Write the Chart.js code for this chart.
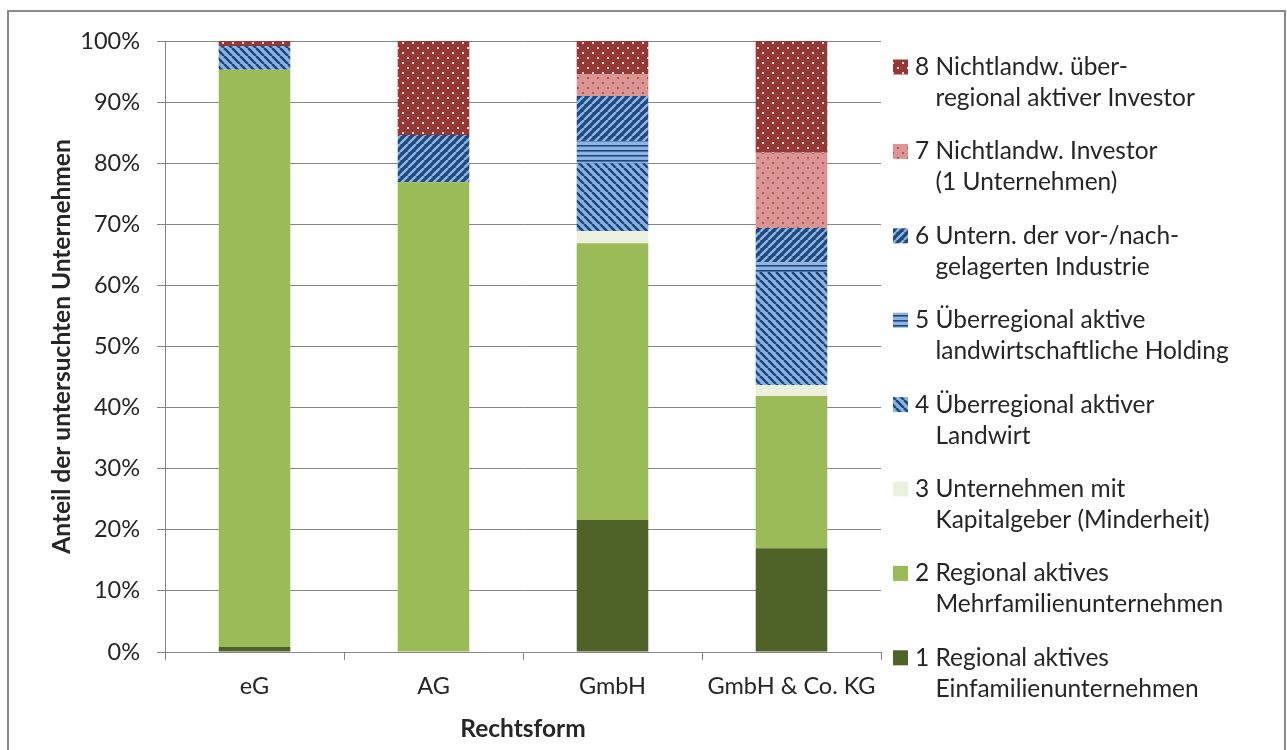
<!DOCTYPE html>
<html>
<head>
<meta charset="utf-8">
<script src="https://cdn.jsdelivr.net/npm/chart.js@4"></script>
<style>
  html, body { margin: 0; padding: 0; background: #fff; }
  #wrap { width: 1287px; height: 750px; }
</style>
</head>
<body>
<div id="wrap"><canvas id="chartContainer" width="1287" height="750"></canvas></div>
<script>
// categories and series (percent of companies per legal form)
var categories = ["eG", "AG", "GmbH", "GmbH & Co. KG"];
var s1_einfamilie = [0.8, 0, 21.6, 17.0];
var s2_mehrfamilie = [94.5, 76.9, 45.3, 24.9];
var s3_kapitalgeber = [0, 0, 2.0, 1.8];
var s4_landwirt = [3.9, 0, 11.1, 18.5];
var s5_holding = [0, 0, 3.6, 1.6];
var s6_industrie = [0, 7.7, 7.4, 5.6];
var s7_investor = [0, 0, 3.6, 12.3];
var s8_investor_ueberreg = [0.8, 15.4, 5.4, 18.3];
var yTicks = [0, 10, 20, 30, 40, 50, 60, 70, 80, 90, 100];

var seriesLabels = [
    ["1 Regional aktives", "Einfamilienunternehmen"],
    ["2 Regional aktives", "Mehrfamilienunternehmen"],
    ["3 Unternehmen mit", "Kapitalgeber (Minderheit)"],
    ["4 Überregional aktiver", "Landwirt"],
    ["5 Überregional aktive", "landwirtschaftliche Holding"],
    ["6 Untern. der vor-/nach-", "gelagerten Industrie"],
    ["7 Nichtlandw. Investor", "(1 Unternehmen)"],
    ["8 Nichtlandw. über-", "regional aktiver Investor"]
];
var seriesData = [s1_einfamilie, s2_mehrfamilie, s3_kapitalgeber, s4_landwirt,
                  s5_holding, s6_industrie, s7_investor, s8_investor_ueberreg];

var FONT = "Lato, 'Open Sans', sans-serif";
var TEXT = "#262626";
var GRID = "#868686";

function makeTile(w, h, drawFn) {
    var c = document.createElement("canvas");
    c.width = w; c.height = h;
    var g = c.getContext("2d");
    drawFn(g, w, h);
    return document.createElement("canvas").getContext("2d").createPattern(c, "repeat");
}

function dots(bg, fg) {
    return makeTile(10, 10, function(g, w, h) {
        g.fillStyle = bg; g.fillRect(0, 0, w, h);
        g.fillStyle = fg;
        g.fillRect(2, 2, 2, 2);
        g.fillRect(7, 7, 2, 2);
    });
}

function stripes(bg, fg, lw, up) {
    return makeTile(8, 8, function(g, s) {
        g.fillStyle = bg; g.fillRect(0, 0, s, s);
        g.strokeStyle = fg; g.lineWidth = lw;
        [-s, 0, s].forEach(function(k) {
            g.beginPath();
            if (up) { g.moveTo(k, s); g.lineTo(k + s, 0); }
            else { g.moveTo(k, 0); g.lineTo(k + s, s); }
            g.stroke();
        });
    });
}

function hlines(bg, fg) {
    return makeTile(5, 5, function(g, w, h) {
        g.fillStyle = bg; g.fillRect(0, 0, w, h);
        g.fillStyle = fg; g.fillRect(0, 0, w, 1.6);
    });
}

var fills = [
    "#4F6228",
    "#9BBB59",
    "#EBF1DE",
    stripes("#8DB3E2", "#1F497D", 2.6, false),
    hlines("#8DB3E2", "#1F497D"),
    stripes("#1F497D", "#8DB3E2", 2.4, true),
    dots("#D99694", "#C0504D"),
    dots("#953735", "#F2DCDB")
];

var frame = {
    id: "frame",
    beforeDraw: function(chart) {
        var ctx = chart.ctx;
        ctx.save();
        ctx.fillStyle = "#fff";
        ctx.fillRect(0, 0, chart.width, chart.height);
        ctx.strokeStyle = "#8a8a8a";
        ctx.lineWidth = 2;
        ctx.strokeRect(8, 11, 1277, 760);
        ctx.restore();
    }
};

var sideLegend = {
    id: "sideLegend",
    afterDraw: function(chart) {
        var ctx = chart.ctx;
        var x0 = chart.chartArea.right + 12;
        ctx.save();
        ctx.font = "24.5px " + FONT;
        ctx.textBaseline = "middle";
        var n = chart.data.datasets.length;
        for (var k = 0; k < n; k++) {
            var i = n - 1 - k;
            var ds = chart.data.datasets[i];
            var y = 67 + k * 84.4;
            ctx.fillStyle = ds.backgroundColor;
            ctx.fillRect(x0, y - 7.5, 15, 15);
            ctx.fillStyle = TEXT;
            var lines = ds.label;
            var tx = x0 + 22;
            ctx.fillText(lines[0], tx, y);
            var indent = ctx.measureText(lines[0].split(" ")[0] + " ").width;
            ctx.fillText(lines[1], tx + indent, y + 31);
        }
        ctx.restore();
    }
};

var datasets = seriesData.map(function(d, i) {
    return {
        label: seriesLabels[i],
        data: d,
        backgroundColor: fills[i],
        borderWidth: 0,
        categoryPercentage: 1.0,
        barPercentage: 0.4
    };
});

var ctx = document.getElementById("chartContainer").getContext("2d");
var chart = new Chart(ctx, {
    type: "bar",
    data: { labels: categories, datasets: datasets },
    plugins: [frame, sideLegend],
    options: {
        responsive: false,
        animation: false,
        layout: { padding: { left: 0, top: 41, right: 406, bottom: 0 } },
        plugins: {
            legend: { display: false },
            tooltip: { enabled: false }
        },
        scales: {
            x: {
                stacked: true,
                grid: { display: true, drawOnChartArea: false, offset: true, color: GRID, tickLength: 8 },
                border: { color: GRID },
                ticks: { color: TEXT, font: { family: FONT, size: 23.5 }, padding: 12 },
                title: { display: true, text: "Rechtsform", color: TEXT,
                         font: { family: FONT, size: 24.5, weight: "bold" }, padding: { top: 17, bottom: 6 } },
                afterFit: function(scale) { scale.height = 750 - 652; }
            },
            y: {
                stacked: true,
                min: 0,
                max: 100,
                afterBuildTicks: function(scale) { scale.ticks = yTicks.map(function(v) { return { value: v }; }); },
                grid: { color: GRID, tickLength: 8 },
                border: { color: GRID },
                ticks: { color: TEXT, font: { family: FONT, size: 23.5 }, padding: 17,
                         callback: function(v) { return v + "%"; } },
                title: { display: true, text: "Anteil der untersuchten Unternehmen", color: TEXT,
                         font: { family: FONT, size: 24.5, weight: "bold" }, padding: { top: 47, bottom: 0 } },
                afterFit: function(scale) { scale.width = 165; }
            }
        }
    }
});
</script>
</body>
</html>
